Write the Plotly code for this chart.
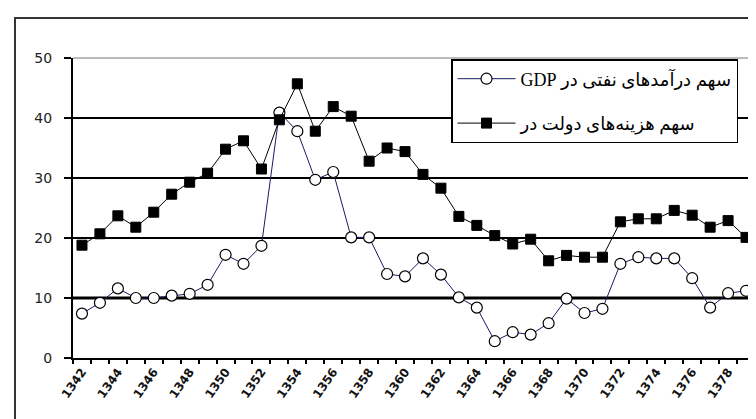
import plotly.graph_objects as go

years = list(range(1342, 1380))
oil_share = [7.4, 9.2, 11.6, 10.0, 10.0, 10.4, 10.7, 12.2, 17.2, 15.7,
             18.7, 40.9, 37.8, 29.7, 31.0, 20.1, 20.1, 14.0, 13.6, 16.6,
             13.9, 10.1, 8.4, 2.8, 4.3, 3.9, 5.8, 9.9, 7.5, 8.2,
             15.7, 16.8, 16.6, 16.6, 13.3, 8.4, 10.8, 11.2]
gov_share = [18.8, 20.7, 23.7, 21.8, 24.3, 27.3, 29.3, 30.8, 34.8, 36.2,
             31.5, 39.7, 45.7, 37.8, 41.9, 40.3, 32.8, 35.0, 34.4, 30.6,
             28.3, 23.6, 22.1, 20.4, 19.0, 19.8, 16.2, 17.1, 16.8, 16.8,
             22.7, 23.2, 23.2, 24.6, 23.8, 21.8, 22.9, 20.1]
tick_years = list(range(1342, 1380, 2))
tick_text = [str(y) for y in tick_years]
boundary_ticks = [y - 0.5 for y in range(1342, 1381)]
y_ticks = [0, 10, 20, 30, 40, 50]
name_oil = "\u202bسهم درآمدهای نفتی در GDP\u202c"
name_gov = "\u202bسهم هزینه‌های دولت در\u202c"

W, H = 756, 419
ml, mr, mt, mb = 65, 9, 50, 69
pw, ph = W - ml - mr, H - mt - mb

def px_x(p):
    return (p - ml) / pw

def px_y(p):
    return (H - mb - p) / ph

fig = go.Figure()
fig.add_trace(go.Scatter(
    x=years, y=oil_share, name=name_oil, mode="lines+markers",
    line=dict(color="#1a1a66", width=1),
    marker=dict(symbol="circle", size=11, color="white",
                line=dict(color="black", width=1.2)),
    legendgroup="a"))
fig.add_trace(go.Scatter(
    x=years, y=gov_share, name=name_gov, mode="lines+markers",
    line=dict(color="black", width=1),
    marker=dict(symbol="square", size=10, color="black",
                line=dict(color="black", width=1)),
    legendgroup="b"))

fig.update_layout(
    width=W, height=H,
    margin=dict(l=ml, r=mr, t=mt, b=mb),
    paper_bgcolor="white", plot_bgcolor="white",
    showlegend=True,
    legend=dict(x=px_x(443), y=px_y(51), xanchor="left", yanchor="top",
                bgcolor="white", bordercolor="black", borderwidth=1.5,
                font=dict(family="Liberation Serif, DejaVu Sans", size=18, color="black"),
                traceorder="grouped", tracegroupgap=18, itemwidth=58),
    xaxis=dict(range=[1341.5, 1379.5], tickvals=tick_years, ticktext=tick_text,
               tickangle=-55, ticks="", showgrid=False, zeroline=False,
               showline=True, linecolor="black", linewidth=2,
               tickfont=dict(family="DejaVu Sans", size=12, color="#111", weight="bold")),
    xaxis2=dict(range=[1341.5, 1379.5], overlaying="x", anchor="y", side="bottom",
                tickvals=boundary_ticks, showticklabels=False, ticks="outside",
                ticklen=5, tickcolor="black", tickwidth=1.5,
                showgrid=False, zeroline=False, showline=False),
    yaxis=dict(range=[0, 50], tickvals=y_ticks, ticks="outside", ticklen=7,
               tickcolor="black", tickwidth=1.5, ticklabelstandoff=9,
               showline=True, linecolor="black", linewidth=2,
               showgrid=False, zeroline=False,
               tickfont=dict(family="DejaVu Sans", size=14, color="#222")),
)
# invisible trace to activate the tick axis
fig.add_trace(go.Scatter(x=[years[0]], y=[oil_share[0]], xaxis="x2", mode="markers",
                         marker=dict(opacity=0), showlegend=False, hoverinfo="skip"))

# horizontal grid lines
for v in y_ticks[1:-1]:
    fig.add_shape(type="line", xref="paper", yref="y", x0=0, x1=1, y0=v, y1=v,
                  line=dict(color="black", width=3 if v == 10 else 2), layer="below")
# thin plot-area border (top and right)
fig.add_shape(type="line", xref="paper", yref="paper", x0=0, x1=1, y0=1, y1=1,
              line=dict(color="#777", width=1))
fig.add_shape(type="line", xref="paper", yref="paper", x0=1, x1=1, y0=0, y1=1,
              line=dict(color="#777", width=1))
# outer chart frame
fig.add_shape(type="rect", xref="paper", yref="paper",
              x0=px_x(7), x1=px_x(770), y0=px_y(10), y1=px_y(440),
              line=dict(color="#333", width=2), fillcolor="rgba(0,0,0,0)")

fig.write_html("out.html")
